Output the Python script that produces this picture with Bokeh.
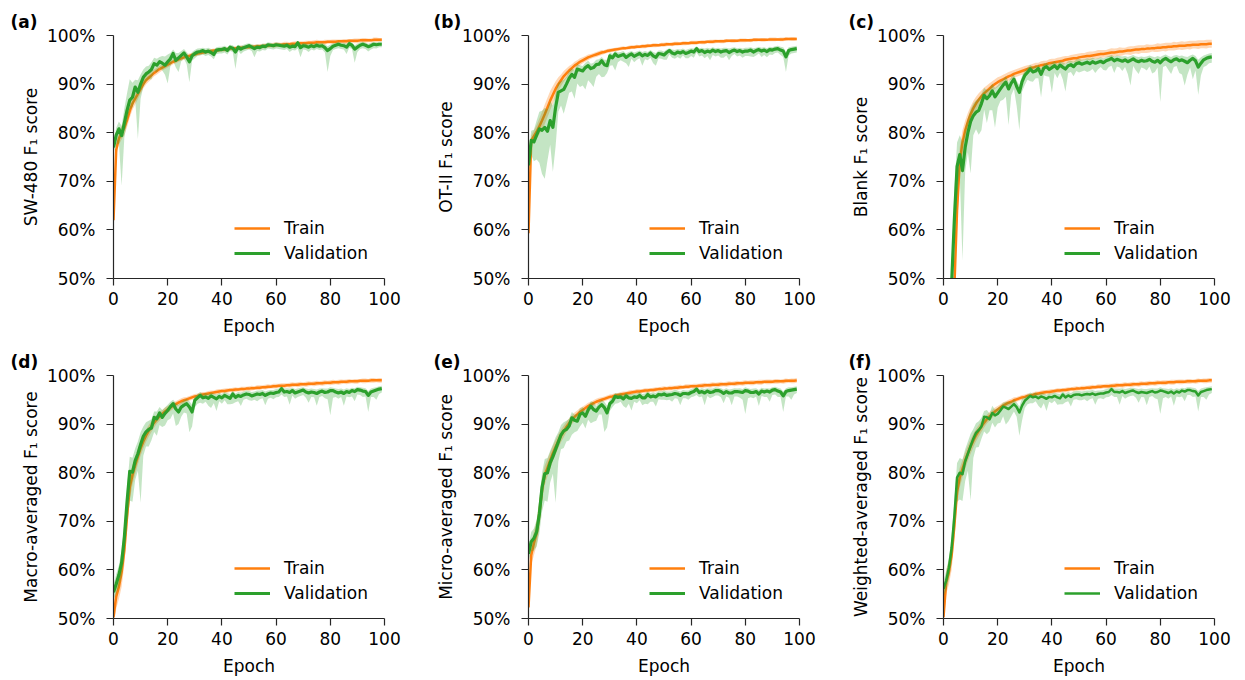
from bokeh.plotting import figure
from bokeh.models import Range1d, FixedTicker, PrintfTickFormatter, Legend, LegendItem
from bokeh.layouts import row, column
from bokeh.embed import file_html
from bokeh.resources import INLINE

# ---------------- data (percent, epochs 0..99) ----------------
epochs = list(range(100))

a_train = [62.0, 76.5, 78.8, 80.0, 81.0, 82.6, 84.5, 86.0, 87.0, 88.0,
           89.0, 90.0, 90.8, 91.3, 91.8, 92.3, 92.7, 93.1, 93.4, 93.7,
           94.0, 94.3, 94.6, 94.8, 95.1, 95.3, 95.5, 95.7, 95.8, 96.0,
           96.1, 96.3, 96.4, 96.5, 96.6, 96.7, 96.8, 96.9, 96.9, 97.0,
           97.1, 97.1, 97.2, 97.3, 97.3, 97.4, 97.4, 97.5, 97.5, 97.6,
           97.6, 97.7, 97.7, 97.8, 97.8, 97.8, 97.9, 97.9, 98.0, 98.0,
           98.1, 98.1, 98.1, 98.2, 98.2, 98.2, 98.3, 98.3, 98.3, 98.4,
           98.4, 98.4, 98.5, 98.5, 98.5, 98.6, 98.6, 98.6, 98.6, 98.7,
           98.7, 98.7, 98.7, 98.8, 98.8, 98.8, 98.8, 98.9, 98.9, 98.9,
           98.9, 99.0, 99.0, 99.0, 99.0, 99.0, 99.1, 99.1, 99.1, 99.1]
a_train_sd = [0.8, 1.2, 1.3, 1.4, 1.5, 1.5, 1.4, 1.3, 1.2, 1.1,
              1.0, 0.9, 0.9, 0.8, 0.8, 0.7, 0.7, 0.7, 0.6, 0.6,
              0.6, 0.6, 0.5, 0.5, 0.5, 0.5, 0.5, 0.5, 0.5, 0.4,
              0.4, 0.4, 0.4, 0.4, 0.4, 0.4, 0.4, 0.4, 0.4, 0.4,
              0.4, 0.4, 0.4, 0.4, 0.4, 0.4, 0.4, 0.4, 0.4, 0.4,
              0.4, 0.4, 0.4, 0.4, 0.4, 0.5, 0.4, 0.4, 0.4, 0.5,
              0.5, 0.4, 0.4, 0.5, 0.5, 0.4, 0.4, 0.5, 0.5, 0.4,
              0.4, 0.5, 0.4, 0.4, 0.5, 0.5, 0.4, 0.4, 0.5, 0.4,
              0.4, 0.5, 0.5, 0.4, 0.4, 0.5, 0.5, 0.4, 0.4, 0.5,
              0.5, 0.4, 0.5, 0.5, 0.4, 0.4, 0.5, 0.5, 0.4, 0.4]
a_val = [77.0, 79.5, 80.8, 79.4, 82.0, 84.6, 86.7, 87.3, 89.4, 88.3,
         90.0, 91.4, 92.1, 92.5, 93.0, 94.2, 93.9, 94.6, 94.3, 93.9,
         94.6, 95.2, 96.3, 94.9, 95.4, 95.9, 96.4, 95.6, 94.6, 95.8,
         96.3, 96.6, 96.7, 96.9, 96.6, 96.8, 96.5, 96.1, 97.0, 97.1,
         97.1, 97.3, 96.9, 97.6, 97.4, 96.6, 97.6, 97.2, 97.5, 97.7,
         97.9, 97.6, 97.3, 97.6, 97.5, 97.8, 97.7, 98.1, 98.0, 97.9,
         98.1, 98.0, 97.9, 97.8, 98.0, 97.6, 97.8, 97.7, 98.5, 97.5,
         97.9, 97.8, 97.6, 97.9, 97.7, 98.0, 97.8, 97.9, 97.5, 96.9,
         97.3, 97.8, 98.0, 98.2, 98.0, 97.9, 97.6, 98.3, 98.0, 97.2,
         97.6, 98.0, 98.2, 98.0, 97.7, 97.9, 98.2, 98.1, 98.2, 98.2]
a_val_dn = [1.0, 2.0, 3.0, 10.3, 3.0, 2.5, 2.0, 2.0, 2.5, 9.6,
            3.0, 2.0, 1.5, 1.5, 2.0, 1.5, 1.5, 1.2, 1.5, 2.0,
            4.5, 1.5, 1.5, 1.5, 2.9, 1.2, 1.2, 1.5, 4.2, 1.0,
            1.0, 0.8, 0.8, 0.8, 0.8, 0.8, 0.8, 1.0, 0.8, 0.8,
            0.8, 0.8, 0.8, 0.8, 0.8, 3.5, 0.8, 1.0, 0.8, 0.8,
            0.8, 0.8, 1.8, 0.8, 0.8, 0.8, 0.8, 0.8, 0.8, 0.8,
            0.8, 0.8, 0.8, 0.8, 0.8, 1.0, 0.8, 0.8, 1.2, 2.0,
            0.8, 0.8, 1.0, 0.8, 0.8, 0.8, 0.8, 0.8, 1.0, 4.4,
            1.5, 0.8, 0.8, 0.8, 0.8, 0.8, 1.4, 0.8, 0.8, 2.8,
            1.0, 0.8, 0.8, 0.8, 1.0, 0.8, 0.8, 0.8, 0.6, 0.6]
a_val_up = [1.0, 1.5, 1.5, 2.0, 3.0, 3.5, 4.3, 3.0, 1.5, 2.5,
            2.0, 1.6, 1.5, 1.3, 1.5, 1.2, 1.3, 1.0, 1.5, 1.8,
            1.5, 1.2, 0.8, 1.5, 1.0, 0.9, 0.8, 1.0, 1.2, 0.8,
            0.7, 0.7, 0.7, 0.6, 0.7, 0.7, 0.7, 0.9, 0.6, 0.6,
            0.6, 0.6, 0.7, 0.5, 0.6, 0.9, 0.5, 0.7, 0.6, 0.6,
            0.5, 0.6, 0.7, 0.6, 0.6, 0.5, 0.6, 0.5, 0.5, 0.5,
            0.5, 0.5, 0.5, 0.6, 0.5, 0.7, 0.6, 0.6, 0.4, 0.7,
            0.6, 0.6, 0.7, 0.6, 0.6, 0.5, 0.6, 0.6, 0.7, 0.9,
            0.8, 0.6, 0.5, 0.5, 0.5, 0.6, 0.7, 0.5, 0.5, 0.8,
            0.7, 0.6, 0.5, 0.5, 0.6, 0.6, 0.5, 0.5, 0.5, 0.5]

b_train = [59.3, 78.4, 79.3, 80.2, 81.3, 82.5, 83.8, 85.2, 86.6, 87.8,
           89.0, 90.0, 90.8, 91.6, 92.2, 92.8, 93.3, 93.8, 94.2, 94.6,
           94.9, 95.2, 95.5, 95.7, 95.9, 96.1, 96.3, 96.5, 96.6, 96.8,
           96.9, 97.0, 97.1, 97.2, 97.3, 97.4, 97.4, 97.5, 97.6, 97.6,
           97.7, 97.7, 97.8, 97.8, 97.9, 97.9, 98.0, 98.0, 98.0, 98.1,
           98.1, 98.2, 98.2, 98.2, 98.3, 98.3, 98.3, 98.4, 98.4, 98.4,
           98.5, 98.5, 98.5, 98.6, 98.6, 98.6, 98.7, 98.7, 98.7, 98.8,
           98.8, 98.8, 98.8, 98.9, 98.9, 98.9, 98.9, 98.9, 99.0, 99.0,
           99.0, 99.0, 99.0, 99.1, 99.1, 99.1, 99.1, 99.1, 99.1, 99.2,
           99.2, 99.2, 99.2, 99.2, 99.2, 99.3, 99.3, 99.3, 99.3, 99.3]
b_train_sd = [1.0, 1.0, 1.2, 1.4, 1.6, 1.8, 2.0, 2.0, 2.0, 1.8,
              1.6, 1.4, 1.2, 1.1, 1.0, 0.9, 0.8, 0.8, 0.7, 0.7,
              0.6, 0.6, 0.6, 0.5, 0.5, 0.5, 0.5, 0.5, 0.4, 0.4,
              0.4, 0.4, 0.4, 0.4, 0.4, 0.4, 0.3, 0.4, 0.4, 0.4,
              0.4, 0.3, 0.4, 0.4, 0.4, 0.3, 0.4, 0.4, 0.3, 0.4,
              0.4, 0.4, 0.3, 0.4, 0.4, 0.4, 0.3, 0.4, 0.4, 0.3,
              0.4, 0.4, 0.4, 0.3, 0.4, 0.4, 0.3, 0.4, 0.4, 0.4,
              0.3, 0.4, 0.4, 0.4, 0.3, 0.4, 0.4, 0.3, 0.4, 0.4,
              0.4, 0.3, 0.4, 0.4, 0.4, 0.3, 0.4, 0.4, 0.3, 0.4,
              0.4, 0.4, 0.3, 0.4, 0.4, 0.4, 0.3, 0.4, 0.4, 0.3]
b_val = [73.3, 78.4, 78.1, 79.5, 80.8, 80.5, 81.1, 80.3, 82.5, 81.1,
         85.2, 88.3, 88.6, 88.9, 90.0, 91.2, 92.0, 91.4, 93.1, 92.9,
         92.7, 93.4, 93.8, 93.2, 93.4, 94.0, 94.1, 94.8, 94.0, 93.8,
         95.8, 95.4, 96.2, 95.7, 95.9, 96.1, 95.5, 95.9, 96.2, 95.7,
         96.0, 96.3, 95.8, 96.1, 95.9, 96.4, 95.8, 95.5, 96.3, 96.2,
         96.0, 96.5, 96.9, 96.4, 96.2, 96.6, 96.4, 96.7, 96.3, 96.5,
         96.8, 96.6, 97.3, 96.7, 96.9, 96.5, 96.8, 96.6, 97.0, 96.7,
         96.9, 96.6, 96.8, 96.9, 96.5, 96.8, 97.0, 96.7, 96.9, 96.6,
         96.8, 96.8, 97.0, 96.6, 96.9, 97.1, 96.8, 97.0, 96.7, 97.1,
         97.0, 97.2, 97.3, 97.0, 96.8, 95.6, 96.9, 97.1, 97.2, 97.3]
b_val_dn = [1.5, 3.0, 4.0, 5.0, 7.0, 9.0, 10.6, 6.0, 5.0, 9.2,
            8.0, 4.0, 3.0, 5.0, 4.0, 3.0, 3.5, 4.4, 3.0, 3.5,
            3.0, 4.5, 3.0, 3.0, 4.0, 2.5, 2.0, 3.4, 2.5, 1.5,
            2.0, 1.5, 3.4, 1.2, 1.0, 1.5, 1.2, 2.4, 1.0, 1.2,
            1.0, 1.0, 2.0, 1.0, 1.0, 1.0, 1.5, 1.7, 1.0, 1.0,
            1.0, 1.5, 0.8, 1.0, 1.0, 1.0, 1.2, 0.8, 1.0, 1.2,
            1.0, 1.2, 0.8, 1.0, 1.0, 1.2, 1.0, 1.7, 1.0, 1.0,
            1.0, 1.2, 1.4, 1.0, 1.6, 1.0, 0.8, 1.0, 1.0, 1.2,
            1.0, 1.0, 1.3, 1.0, 1.0, 0.8, 1.2, 1.0, 1.2, 1.0,
            1.0, 0.8, 0.8, 1.0, 1.2, 3.1, 1.0, 0.8, 0.8, 0.8]
b_val_up = [2.0, 2.0, 2.5, 3.0, 3.5, 4.0, 4.0, 4.5, 4.0, 4.5,
            3.0, 2.0, 2.0, 2.0, 1.5, 1.5, 1.2, 1.5, 1.0, 1.0,
            1.0, 1.0, 1.0, 1.0, 1.0, 1.0, 1.0, 0.8, 1.0, 1.2,
            0.7, 0.8, 0.6, 0.8, 0.7, 0.7, 0.8, 0.7, 0.6, 0.8,
            0.7, 0.6, 0.8, 0.7, 0.7, 0.6, 0.8, 0.9, 0.6, 0.7,
            0.7, 0.6, 0.5, 0.7, 0.8, 0.6, 0.7, 0.6, 0.7, 0.7,
            0.6, 0.7, 0.5, 0.7, 0.6, 0.8, 0.7, 0.7, 0.6, 0.7,
            0.6, 0.7, 0.7, 0.6, 0.8, 0.7, 0.6, 0.7, 0.6, 0.7,
            0.7, 0.7, 0.6, 0.8, 0.6, 0.6, 0.7, 0.6, 0.7, 0.6,
            0.6, 0.6, 0.6, 0.7, 0.8, 1.0, 0.7, 0.6, 0.6, 0.6]

c_train = [10.0, 22.0, 33.0, 42.0, 48.0, 64.0, 74.0, 78.0, 80.5, 82.3,
           83.8, 85.0, 86.0, 86.8, 87.5, 88.1, 88.6, 89.1, 89.6, 90.0,
           90.4, 90.7, 91.0, 91.3, 91.6, 91.8, 92.1, 92.3, 92.5, 92.7,
           92.9, 93.1, 93.3, 93.4, 93.6, 93.7, 93.9, 94.0, 94.1, 94.3,
           94.4, 94.5, 94.6, 94.7, 94.8, 95.0, 95.1, 95.2, 95.3, 95.3,
           95.5, 95.6, 95.7, 95.8, 95.8, 95.9, 96.0, 96.1, 96.2, 96.2,
           96.3, 96.4, 96.5, 96.5, 96.6, 96.7, 96.7, 96.8, 96.9, 96.9,
           97.0, 97.1, 97.1, 97.2, 97.2, 97.3, 97.3, 97.4, 97.4, 97.5,
           97.5, 97.6, 97.6, 97.7, 97.7, 97.8, 97.8, 97.9, 97.9, 97.9,
           98.0, 98.0, 98.1, 98.1, 98.1, 98.2, 98.2, 98.2, 98.3, 98.3]
c_train_sd = [3.0, 3.0, 3.0, 3.0, 3.5, 4.0, 3.0, 2.5, 2.0, 1.8,
              1.6, 1.5, 1.4, 1.3, 1.2, 1.2, 1.1, 1.1, 1.0, 1.0,
              1.0, 0.9, 0.9, 0.9, 0.9, 0.9, 0.8, 0.8, 0.8, 0.8,
              0.8, 0.8, 0.7, 0.8, 0.8, 0.7, 0.8, 0.8, 0.7, 0.8,
              0.8, 0.7, 0.8, 0.8, 0.9, 0.8, 0.7, 0.8, 0.8, 0.9,
              0.8, 0.8, 0.7, 0.8, 0.9, 0.8, 0.8, 0.9, 0.8, 0.8,
              0.7, 0.8, 0.9, 0.8, 0.8, 0.9, 0.8, 0.7, 0.8, 0.9,
              0.8, 0.8, 0.9, 0.8, 0.8, 0.9, 0.8, 0.7, 0.8, 0.9,
              0.8, 0.8, 0.9, 0.8, 0.8, 0.9, 0.8, 0.8, 0.9, 0.8,
              0.8, 0.9, 0.8, 0.8, 0.9, 0.8, 0.8, 0.9, 0.8, 0.8]
c_val = [12.0, 25.0, 37.0, 49.0, 62.0, 73.0, 75.5, 72.2, 77.0, 80.0,
         82.3, 83.5, 84.2, 84.6, 86.0, 87.7, 87.0, 87.6, 88.6, 87.4,
         88.2, 89.0, 89.8, 90.4, 89.0, 90.2, 91.0, 89.5, 88.3, 90.5,
         91.8, 92.4, 93.1, 92.5, 92.7, 93.2, 92.0, 93.3, 93.6, 93.0,
         93.4, 93.8, 93.2, 93.9, 93.5, 93.1, 93.8, 94.0, 93.6, 94.2,
         94.4, 94.1, 94.3, 94.5, 94.2, 94.6, 94.3, 94.5, 94.7, 94.4,
         94.8, 95.0, 95.3, 94.8, 95.1, 94.9, 94.7, 95.0, 94.6, 94.9,
         95.2, 94.8, 94.6, 94.9, 94.7, 94.8, 95.1, 94.7, 94.5, 94.9,
         94.4, 95.0, 95.3, 94.9, 94.6, 95.0, 95.2, 94.8, 95.0, 94.7,
         94.4, 94.9, 95.3, 94.8, 93.5, 94.3, 95.0, 95.3, 95.5, 95.6]
c_val_dn = [3.0, 3.0, 3.0, 3.0, 5.0, 6.0, 4.0, 18.5, 5.0, 4.0,
            10.7, 4.0, 3.5, 5.0, 5.5, 3.0, 5.0, 3.0, 4.0, 6.4,
            3.0, 2.5, 3.0, 3.0, 7.4, 2.5, 2.0, 4.0, 7.8, 2.0,
            2.0, 1.5, 2.5, 2.0, 1.5, 2.0, 4.7, 1.5, 2.0, 1.5,
            5.2, 1.5, 2.0, 1.5, 2.5, 4.6, 1.5, 1.5, 2.0, 1.5,
            2.0, 1.5, 1.5, 2.0, 1.5, 1.5, 2.0, 1.5, 1.2, 1.5,
            2.0, 1.5, 1.5, 2.5, 1.5, 1.5, 2.0, 1.5, 2.5, 5.2,
            1.5, 2.0, 2.5, 1.5, 1.5, 2.0, 1.5, 2.5, 2.0, 1.5,
            8.1, 1.5, 1.5, 2.0, 2.5, 1.5, 1.5, 2.5, 3.0, 5.0,
            2.5, 1.5, 4.3, 2.0, 5.7, 2.5, 1.5, 1.5, 1.2, 1.2]
c_val_up = [3.0, 3.0, 3.0, 4.0, 6.0, 5.0, 4.0, 6.0, 4.0, 3.0,
            2.5, 2.5, 2.5, 2.5, 2.0, 1.5, 1.8, 1.5, 1.5, 1.8,
            1.5, 1.5, 1.2, 1.2, 1.5, 1.2, 1.0, 1.2, 1.5, 1.2,
            1.0, 1.0, 0.9, 1.0, 1.0, 0.9, 1.2, 0.9, 0.8, 1.0,
            1.0, 0.9, 1.0, 0.8, 1.0, 1.1, 0.9, 0.8, 1.0, 0.8,
            0.8, 0.9, 0.8, 0.8, 1.0, 0.8, 0.9, 0.8, 0.8, 0.9,
            0.8, 0.8, 0.7, 0.9, 0.8, 0.9, 1.0, 0.8, 1.0, 0.9,
            0.8, 0.9, 1.0, 0.8, 0.9, 0.9, 0.8, 1.0, 1.0, 0.9,
            1.2, 0.9, 0.8, 0.9, 1.0, 0.9, 0.8, 1.0, 0.9, 1.0,
            1.2, 1.0, 0.8, 1.0, 1.5, 1.2, 0.9, 0.8, 0.8, 0.8]

d_train = [50.3, 54.5, 56.5, 59.5, 64.0, 71.0, 77.0, 79.5, 81.5, 83.3,
           85.0, 86.4, 87.6, 88.6, 89.5, 90.3, 91.0, 91.6, 92.1, 92.6,
           93.0, 93.4, 93.8, 94.1, 94.4, 94.7, 94.9, 95.1, 95.3, 95.5,
           95.7, 95.8, 96.0, 96.1, 96.2, 96.3, 96.4, 96.5, 96.6, 96.7,
           96.8, 96.8, 96.9, 97.0, 97.0, 97.1, 97.1, 97.2, 97.2, 97.3,
           97.3, 97.4, 97.4, 97.5, 97.5, 97.6, 97.6, 97.7, 97.7, 97.8,
           97.8, 97.9, 97.9, 97.9, 98.0, 98.0, 98.1, 98.1, 98.1, 98.2,
           98.2, 98.2, 98.3, 98.3, 98.3, 98.4, 98.4, 98.4, 98.5, 98.5,
           98.5, 98.6, 98.6, 98.6, 98.7, 98.7, 98.7, 98.8, 98.8, 98.8,
           98.8, 98.9, 98.9, 98.9, 98.9, 99.0, 99.0, 99.0, 99.0, 99.0]
d_train_sd = [2.0, 2.5, 2.5, 3.0, 3.0, 3.0, 2.5, 2.0, 1.8, 1.6,
              1.5, 1.4, 1.3, 1.2, 1.1, 1.0, 0.9, 0.9, 0.8, 0.8,
              0.7, 0.7, 0.7, 0.6, 0.6, 0.6, 0.6, 0.5, 0.5, 0.5,
              0.5, 0.5, 0.5, 0.5, 0.4, 0.5, 0.5, 0.4, 0.5, 0.5,
              0.4, 0.5, 0.5, 0.4, 0.5, 0.5, 0.4, 0.5, 0.5, 0.4,
              0.5, 0.5, 0.4, 0.5, 0.5, 0.4, 0.5, 0.5, 0.4, 0.5,
              0.5, 0.4, 0.5, 0.5, 0.4, 0.5, 0.5, 0.4, 0.5, 0.5,
              0.4, 0.5, 0.5, 0.4, 0.5, 0.5, 0.4, 0.5, 0.5, 0.4,
              0.5, 0.5, 0.4, 0.5, 0.5, 0.4, 0.5, 0.5, 0.4, 0.5,
              0.5, 0.4, 0.5, 0.5, 0.4, 0.5, 0.5, 0.4, 0.5, 0.5]
d_val = [55.4, 57.1, 59.0, 61.5, 66.7, 74.0, 80.3, 80.1, 82.5, 83.9,
         85.8, 87.5, 88.4, 88.9, 89.2, 91.4, 91.1, 92.3, 91.4, 92.2,
         92.8, 93.6, 94.2, 93.1, 92.5, 93.5, 93.9, 94.2, 93.5, 92.5,
         94.9, 95.4, 95.9, 95.4, 95.6, 95.3, 95.8, 95.5, 95.2, 95.7,
         95.4, 95.9, 95.6, 95.3, 96.2, 95.5, 95.9, 95.7, 96.0, 96.2,
         96.1, 95.8, 96.0, 96.2, 96.1, 96.3, 95.9, 96.2, 96.4, 96.3,
         96.5, 96.6, 97.3, 96.6, 96.7, 96.5, 96.9, 96.4, 96.6, 96.8,
         97.0, 96.6, 96.4, 96.6, 96.5, 96.3, 96.6, 96.8, 96.5, 96.6,
         96.9, 96.9, 96.6, 96.4, 96.6, 96.3, 96.7, 96.5, 96.9, 96.7,
         97.1, 97.0, 96.8, 96.7, 95.9, 96.6, 96.8, 97.0, 97.2, 97.3]
d_val_dn = [1.5, 2.0, 2.5, 3.0, 4.0, 5.0, 6.0, 6.1, 4.0, 3.5,
            12.0, 4.0, 3.0, 3.5, 2.5, 3.0, 3.5, 2.5, 2.0, 2.5,
            2.0, 2.5, 2.0, 3.5, 2.5, 2.0, 1.5, 2.0, 5.2, 3.0,
            1.5, 1.2, 1.5, 1.2, 1.0, 1.5, 2.5, 1.2, 2.5, 1.0,
            1.2, 1.0, 1.5, 1.2, 2.0, 1.0, 1.2, 2.0, 1.0, 1.0,
            1.2, 1.0, 1.0, 1.5, 1.0, 1.0, 2.0, 1.0, 1.0, 1.2,
            1.0, 1.0, 1.2, 1.0, 1.0, 2.5, 1.0, 1.2, 1.0, 1.0,
            1.0, 1.2, 2.0, 1.0, 1.0, 2.5, 1.0, 1.0, 1.2, 1.5,
            5.1, 1.5, 1.0, 1.2, 1.0, 2.5, 1.0, 1.0, 1.2, 2.0,
            1.0, 1.0, 1.2, 1.0, 3.4, 1.0, 1.2, 2.0, 1.0, 0.8]
d_val_up = [1.5, 2.0, 2.0, 2.5, 3.0, 3.0, 3.0, 3.0, 2.5, 2.5,
            2.5, 2.0, 2.0, 1.8, 1.8, 1.2, 1.5, 1.2, 1.5, 1.2,
            1.2, 1.0, 0.8, 1.2, 1.5, 1.0, 1.0, 1.0, 1.2, 1.5,
            0.8, 0.8, 0.7, 0.8, 0.8, 0.9, 0.7, 0.8, 0.9, 0.7,
            0.8, 0.7, 0.8, 0.9, 0.6, 0.8, 0.7, 0.8, 0.7, 0.7,
            0.7, 0.8, 0.7, 0.7, 0.8, 0.7, 0.8, 0.7, 0.6, 0.7,
            0.7, 0.7, 0.5, 0.7, 0.7, 0.8, 0.6, 0.8, 0.7, 0.7,
            0.6, 0.7, 0.8, 0.7, 0.7, 0.8, 0.7, 0.6, 0.8, 0.7,
            0.7, 0.6, 0.7, 0.8, 0.7, 0.8, 0.7, 0.7, 0.6, 0.7,
            0.6, 0.6, 0.7, 0.7, 0.9, 0.7, 0.7, 0.6, 0.6, 0.6]

e_train = [52.3, 63.0, 65.5, 67.5, 71.5, 76.5, 79.5, 81.0, 82.5, 84.0,
           85.3, 86.5, 87.6, 88.5, 89.4, 90.2, 90.9, 91.5, 92.0, 92.5,
           92.9, 93.3, 93.7, 94.0, 94.3, 94.6, 94.8, 95.0, 95.2, 95.4,
           95.6, 95.7, 95.9, 96.0, 96.1, 96.2, 96.3, 96.4, 96.5, 96.6,
           96.7, 96.7, 96.8, 96.9, 96.9, 97.0, 97.0, 97.1, 97.2, 97.2,
           97.3, 97.3, 97.4, 97.4, 97.5, 97.5, 97.6, 97.6, 97.7, 97.7,
           97.8, 97.8, 97.8, 97.9, 97.9, 98.0, 98.0, 98.0, 98.1, 98.1,
           98.1, 98.2, 98.2, 98.2, 98.3, 98.3, 98.3, 98.4, 98.4, 98.4,
           98.5, 98.5, 98.5, 98.5, 98.6, 98.6, 98.6, 98.7, 98.7, 98.7,
           98.7, 98.8, 98.8, 98.8, 98.8, 98.9, 98.9, 98.9, 98.9, 99.0]
e_train_sd = [2.0, 2.0, 2.5, 2.5, 3.0, 2.5, 2.0, 1.8, 1.7, 1.6,
              1.5, 1.4, 1.3, 1.2, 1.1, 1.0, 0.9, 0.9, 0.8, 0.8,
              0.7, 0.7, 0.7, 0.6, 0.6, 0.6, 0.6, 0.5, 0.5, 0.5,
              0.5, 0.5, 0.5, 0.4, 0.5, 0.5, 0.4, 0.5, 0.5, 0.4,
              0.5, 0.5, 0.4, 0.5, 0.5, 0.4, 0.5, 0.5, 0.4, 0.5,
              0.5, 0.4, 0.5, 0.5, 0.4, 0.5, 0.5, 0.4, 0.5, 0.5,
              0.4, 0.5, 0.5, 0.4, 0.5, 0.5, 0.4, 0.5, 0.5, 0.4,
              0.5, 0.5, 0.4, 0.5, 0.5, 0.4, 0.5, 0.5, 0.4, 0.5,
              0.5, 0.4, 0.5, 0.5, 0.4, 0.5, 0.5, 0.4, 0.5, 0.5,
              0.4, 0.5, 0.5, 0.4, 0.5, 0.5, 0.4, 0.5, 0.5, 0.5]
e_val = [63.3, 65.8, 66.5, 67.8, 71.5, 77.0, 79.8, 80.0, 82.0, 83.3,
         84.8, 86.3, 87.8, 88.6, 88.9, 89.6, 91.3, 90.8, 90.6, 92.0,
         92.3, 91.6, 92.9, 93.7, 93.0, 92.7, 93.5, 94.0, 93.4, 92.3,
         94.2, 94.7, 95.7, 95.5, 95.6, 95.2, 95.8, 95.4, 95.3, 95.6,
         95.5, 95.9, 95.4, 95.4, 96.1, 95.6, 95.8, 95.6, 96.1, 96.0,
         96.2, 95.9, 96.0, 96.1, 96.3, 96.2, 95.9, 96.3, 96.3, 96.2,
         96.5, 96.7, 97.2, 96.5, 96.7, 96.4, 96.8, 96.5, 96.6, 96.9,
         96.9, 96.7, 96.3, 96.7, 96.4, 96.4, 96.7, 96.7, 96.6, 96.5,
         96.9, 96.8, 96.5, 96.5, 96.7, 96.2, 96.8, 96.6, 96.8, 96.6,
         97.0, 97.1, 96.8, 96.6, 95.8, 96.7, 96.9, 97.0, 97.1, 97.2]
e_val_dn = [1.5, 2.0, 2.5, 3.0, 4.0, 5.0, 5.5, 6.0, 4.0, 3.5,
            11.0, 4.0, 3.0, 3.5, 2.5, 3.0, 3.5, 2.5, 2.0, 2.5,
            2.0, 2.5, 2.0, 3.5, 2.5, 2.0, 1.5, 2.0, 5.0, 3.0,
            1.5, 1.2, 1.5, 1.2, 1.0, 1.5, 2.5, 1.2, 2.5, 1.0,
            1.2, 1.0, 1.5, 1.2, 2.0, 1.0, 1.2, 2.0, 1.0, 1.0,
            1.2, 1.0, 1.0, 1.5, 1.0, 1.0, 2.0, 1.0, 1.0, 1.2,
            1.0, 1.0, 1.2, 1.0, 1.0, 2.5, 1.0, 1.2, 1.0, 1.0,
            1.0, 1.2, 2.0, 1.0, 1.0, 2.5, 1.0, 1.0, 1.2, 1.5,
            4.8, 1.5, 1.0, 1.2, 1.0, 2.5, 1.0, 1.0, 1.2, 2.0,
            1.0, 1.0, 1.2, 1.0, 3.3, 1.0, 1.2, 2.0, 1.0, 0.8]
e_val_up = [1.5, 2.0, 2.0, 2.5, 3.0, 3.0, 3.0, 3.0, 2.5, 2.5,
            2.5, 2.0, 2.0, 1.8, 1.8, 1.5, 1.2, 1.2, 1.5, 1.2,
            1.2, 1.2, 0.8, 1.0, 1.5, 1.0, 1.0, 1.0, 1.2, 1.5,
            0.8, 0.8, 0.7, 0.8, 0.8, 0.9, 0.7, 0.8, 0.9, 0.7,
            0.8, 0.7, 0.8, 0.9, 0.6, 0.8, 0.7, 0.8, 0.7, 0.7,
            0.7, 0.8, 0.7, 0.7, 0.8, 0.7, 0.8, 0.7, 0.6, 0.7,
            0.7, 0.7, 0.5, 0.7, 0.7, 0.8, 0.6, 0.8, 0.7, 0.7,
            0.6, 0.7, 0.8, 0.7, 0.7, 0.8, 0.7, 0.6, 0.8, 0.7,
            0.7, 0.6, 0.7, 0.8, 0.7, 0.8, 0.7, 0.7, 0.6, 0.7,
            0.6, 0.6, 0.7, 0.7, 0.9, 0.7, 0.7, 0.6, 0.6, 0.6]

f_train = [50.3, 57.5, 59.5, 63.0, 69.0, 76.0, 79.0, 80.8, 82.5, 84.0,
           85.4, 86.6, 87.7, 88.6, 89.5, 90.3, 91.0, 91.6, 92.1, 92.6,
           93.0, 93.4, 93.8, 94.1, 94.4, 94.6, 94.9, 95.1, 95.3, 95.5,
           95.6, 95.8, 95.9, 96.0, 96.2, 96.3, 96.4, 96.5, 96.6, 96.6,
           96.7, 96.8, 96.9, 96.9, 97.0, 97.0, 97.1, 97.2, 97.2, 97.3,
           97.3, 97.4, 97.4, 97.5, 97.5, 97.6, 97.6, 97.7, 97.7, 97.8,
           97.8, 97.8, 97.9, 97.9, 98.0, 98.0, 98.0, 98.1, 98.1, 98.1,
           98.2, 98.2, 98.2, 98.3, 98.3, 98.3, 98.4, 98.4, 98.4, 98.5,
           98.5, 98.5, 98.5, 98.6, 98.6, 98.6, 98.7, 98.7, 98.7, 98.7,
           98.8, 98.8, 98.8, 98.8, 98.9, 98.9, 98.9, 98.9, 99.0, 99.0]
f_train_sd = [2.0, 2.5, 2.5, 3.0, 3.0, 2.5, 2.0, 1.8, 1.7, 1.6,
              1.5, 1.4, 1.3, 1.2, 1.1, 1.0, 0.9, 0.9, 0.8, 0.8,
              0.7, 0.7, 0.7, 0.6, 0.6, 0.6, 0.6, 0.5, 0.5, 0.5,
              0.5, 0.5, 0.4, 0.5, 0.5, 0.4, 0.5, 0.5, 0.4, 0.5,
              0.5, 0.4, 0.5, 0.5, 0.4, 0.5, 0.5, 0.4, 0.5, 0.5,
              0.4, 0.5, 0.5, 0.4, 0.5, 0.5, 0.4, 0.5, 0.5, 0.4,
              0.5, 0.5, 0.4, 0.5, 0.5, 0.4, 0.5, 0.5, 0.4, 0.5,
              0.5, 0.4, 0.5, 0.5, 0.4, 0.5, 0.5, 0.4, 0.5, 0.5,
              0.4, 0.5, 0.5, 0.4, 0.5, 0.5, 0.4, 0.5, 0.5, 0.4,
              0.5, 0.5, 0.4, 0.5, 0.5, 0.4, 0.5, 0.5, 0.5, 0.5]
f_val = [56.1, 57.8, 60.5, 64.5, 71.0, 79.0, 80.0, 79.7, 82.3, 83.9,
         85.5, 87.0, 88.2, 88.8, 89.5, 91.5, 91.4, 91.0, 92.3, 91.8,
         92.1, 92.8, 93.6, 93.4, 93.1, 93.6, 94.1, 93.5, 92.4, 93.8,
         94.8, 95.3, 95.8, 95.5, 95.7, 95.3, 95.7, 95.5, 95.2, 95.6,
         95.5, 95.8, 95.5, 95.3, 96.1, 95.5, 95.9, 95.6, 96.0, 96.1,
         96.1, 95.9, 96.1, 96.2, 96.1, 96.3, 96.0, 96.2, 96.3, 96.3,
         96.5, 96.6, 97.2, 96.6, 96.6, 96.5, 96.8, 96.4, 96.6, 96.8,
         96.9, 96.6, 96.4, 96.6, 96.5, 96.4, 96.6, 96.8, 96.5, 96.6,
         96.9, 96.8, 96.6, 96.4, 96.7, 96.3, 96.7, 96.5, 96.9, 96.7,
         97.0, 97.0, 96.8, 96.7, 95.9, 96.6, 96.8, 97.0, 97.1, 97.2]
f_val_dn = [1.5, 2.0, 2.5, 3.0, 4.0, 5.0, 5.5, 5.5, 4.0, 3.5,
            11.2, 4.0, 3.0, 3.5, 2.5, 3.0, 3.5, 2.5, 2.0, 2.5,
            2.0, 2.5, 2.0, 3.5, 2.5, 2.0, 1.5, 2.0, 4.8, 3.0,
            1.5, 1.2, 1.5, 1.2, 1.0, 1.5, 2.5, 1.2, 2.5, 1.0,
            1.2, 1.0, 1.5, 1.2, 2.0, 1.0, 1.2, 2.0, 1.0, 1.0,
            1.2, 1.0, 1.0, 1.5, 1.0, 1.0, 2.0, 1.0, 1.0, 1.2,
            1.0, 1.0, 1.2, 1.0, 1.0, 2.5, 1.0, 1.2, 1.0, 1.0,
            1.0, 1.2, 2.0, 1.0, 1.0, 2.5, 1.0, 1.0, 1.2, 1.5,
            4.8, 1.5, 1.0, 1.2, 1.0, 2.5, 1.0, 1.0, 1.2, 2.0,
            1.0, 1.0, 1.2, 1.0, 3.3, 1.0, 1.2, 2.0, 1.0, 0.8]
f_val_up = [1.5, 2.0, 2.0, 2.5, 3.0, 3.0, 3.0, 3.0, 2.5, 2.5,
            2.5, 2.0, 2.0, 1.8, 1.8, 1.2, 1.5, 1.2, 1.5, 1.2,
            1.2, 1.0, 0.8, 1.2, 1.5, 1.0, 1.0, 1.0, 1.2, 1.5,
            0.8, 0.8, 0.7, 0.8, 0.8, 0.9, 0.7, 0.8, 0.9, 0.7,
            0.8, 0.7, 0.8, 0.9, 0.6, 0.8, 0.7, 0.8, 0.7, 0.7,
            0.7, 0.8, 0.7, 0.7, 0.8, 0.7, 0.8, 0.7, 0.6, 0.7,
            0.7, 0.7, 0.5, 0.7, 0.7, 0.8, 0.6, 0.8, 0.7, 0.7,
            0.6, 0.7, 0.8, 0.7, 0.7, 0.8, 0.7, 0.6, 0.8, 0.7,
            0.7, 0.6, 0.7, 0.8, 0.7, 0.8, 0.7, 0.7, 0.6, 0.7,
            0.6, 0.6, 0.7, 0.7, 0.9, 0.7, 0.7, 0.6, 0.6, 0.6]

x_ticks = [0, 20, 40, 60, 80, 100]
y_ticks = [50, 60, 70, 80, 90, 100]
series_labels = ["Train", "Validation"]
panel_tags = ["(a)", "(b)", "(c)", "(d)", "(e)", "(f)"]
y_labels = ["SW-480 F\u2081 score", "OT-II F\u2081 score", "Blank F\u2081 score",
            "Macro-averaged F\u2081 score", "Micro-averaged F\u2081 score",
            "Weighted-averaged F\u2081 score"]

# ---------------- styling ----------------
FONT = "DejaVu Sans"
ORANGE = "#ff7f0e"
GREEN = "#2ca02c"
AXIS = "#262626"
FW, FH = 271, 243


def make_panel(tag, ylabel, train, train_sd, val, val_dn, val_up, val_lw,
               left, top, bottom, right):
    for arr in (train, train_sd, val, val_dn, val_up):
        assert len(arr) == len(epochs)
    p = figure(frame_width=FW, frame_height=FH, output_backend="svg",
               toolbar_location=None, x_range=Range1d(0, 100),
               y_range=Range1d(50, 100), min_border_left=left,
               min_border_right=right, min_border_top=top,
               min_border_bottom=bottom, title=tag)
    p.outline_line_color = None
    p.xgrid.visible = False
    p.ygrid.visible = False
    p.background_fill_color = "white"
    p.border_fill_color = "white"

    # panel tag as title, shifted to the far left of the panel
    p.title.text_font = FONT
    p.title.text_font_size = "17px"
    p.title.text_font_style = "bold"
    p.title.text_color = "black"
    p.title.align = "left"
    p.title.offset = -(left - 10)
    p.title.standoff = 7

    t_lo = [m - s for m, s in zip(train, train_sd)]
    t_hi = [m + s for m, s in zip(train, train_sd)]
    v_lo = [m - s for m, s in zip(val, val_dn)]
    v_hi = [m + s for m, s in zip(val, val_up)]

    p.varea(x=epochs, y1=t_lo, y2=t_hi, fill_color=ORANGE, fill_alpha=0.3)
    rt = p.line(epochs, train, line_color=ORANGE, line_width=2.5,
                line_join="round")
    p.varea(x=epochs, y1=v_lo, y2=v_hi, fill_color=GREEN, fill_alpha=0.28)
    rv = p.line(epochs, val, line_color=GREEN, line_width=val_lw,
                line_join="round")

    for ax in (p.xaxis[0], p.yaxis[0]):
        ax.axis_line_color = AXIS
        ax.axis_line_width = 1.2
        ax.major_tick_line_color = AXIS
        ax.major_tick_line_width = 1.2
        ax.major_tick_out = 7
        ax.major_tick_in = 0
        ax.minor_tick_line_color = None
        ax.major_label_text_font = FONT
        ax.major_label_text_font_size = "17px"
        ax.major_label_text_color = "black"
        ax.axis_label_text_font = FONT
        ax.axis_label_text_font_size = "17px"
        ax.axis_label_text_font_style = "normal"
        ax.axis_label_text_color = "black"

    p.xaxis.ticker = FixedTicker(ticks=x_ticks)
    p.yaxis.ticker = FixedTicker(ticks=y_ticks)
    p.yaxis.formatter = PrintfTickFormatter(format="%d%%")
    p.xaxis.axis_label = "Epoch"
    p.yaxis.axis_label = ylabel
    p.xaxis.major_label_standoff = 6
    p.yaxis.major_label_standoff = 11
    p.xaxis.axis_label_standoff = 8
    p.yaxis.axis_label_standoff = 3

    legend = Legend(items=[LegendItem(label=series_labels[0], renderers=[rt]),
                           LegendItem(label=series_labels[1], renderers=[rv])],
                    location=(121, 15), glyph_width=36, glyph_height=20,
                    label_standoff=14, spacing=5, padding=0, margin=0,
                    border_line_color=None, background_fill_alpha=0,
                    label_text_font=FONT, label_text_font_size="17px",
                    label_text_color="black", label_height=20)
    p.add_layout(legend)
    return p


pa = make_panel(panel_tags[0], y_labels[0], a_train, a_train_sd, a_val, a_val_dn, a_val_up, 3.2, 113, 35, 61, 39)
pb = make_panel(panel_tags[1], y_labels[1], b_train, b_train_sd, b_val, b_val_dn, b_val_up, 3.2, 105, 35, 61, 39)
pc = make_panel(panel_tags[2], y_labels[2], c_train, c_train_sd, c_val, c_val_dn, c_val_up, 3.2, 105, 35, 61, 25)
pd = make_panel(panel_tags[3], y_labels[3], d_train, d_train_sd, d_val, d_val_dn, d_val_up, 3.2, 113, 36, 61, 39)
pe = make_panel(panel_tags[4], y_labels[4], e_train, e_train_sd, e_val, e_val_dn, e_val_up, 3.2, 105, 36, 61, 39)
pf = make_panel(panel_tags[5], y_labels[5], f_train, f_train_sd, f_val, f_val_dn, f_val_up, 2.5, 105, 36, 61, 25)

layout = column(row(pa, pb, pc, spacing=0), row(pd, pe, pf, spacing=0), spacing=0)

open("out.html", "w").write(file_html(layout, INLINE))
